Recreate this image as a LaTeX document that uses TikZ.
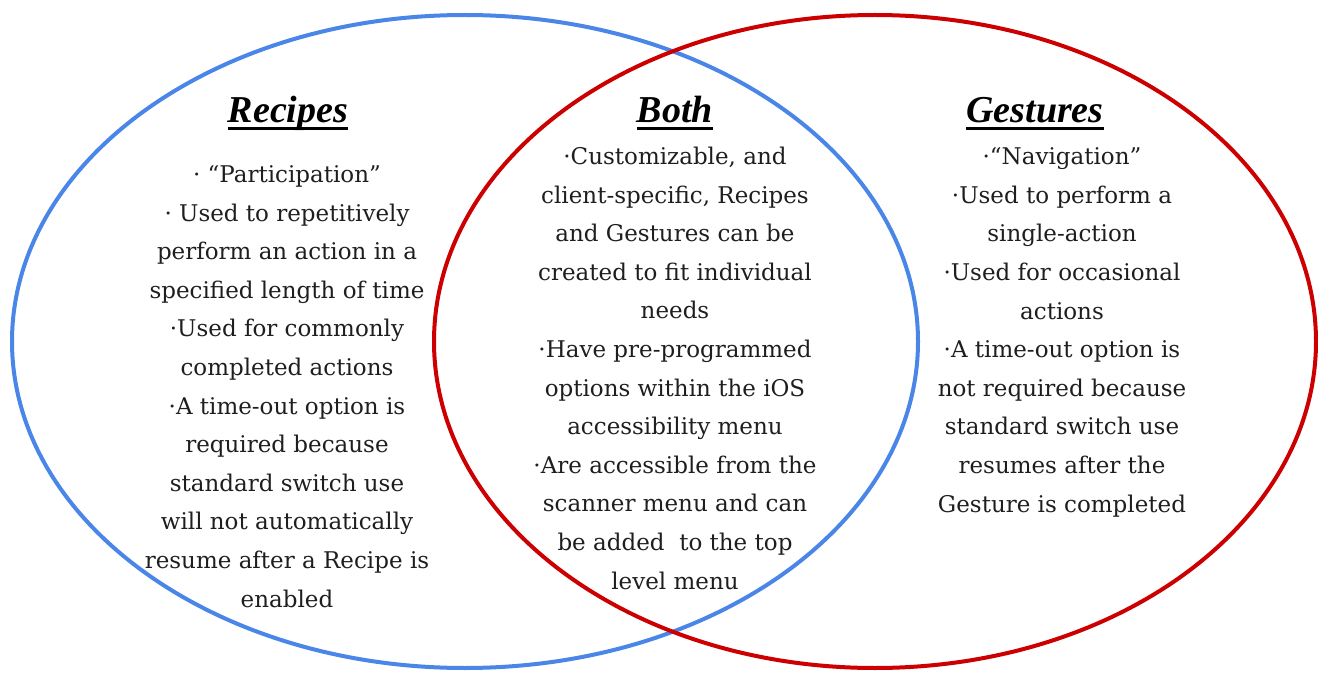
\documentclass[tikz,border=0pt]{standalone}
\usepackage{fontspec}
\setmainfont{DejaVu Serif}
\newfontfamily\titlefont{Liberation Serif}
\definecolor{vblue}{HTML}{4A86E8}
\definecolor{vred}{HTML}{CC0000}
\definecolor{txt}{HTML}{1E1E1E}
\newcommand\thul[1]{\setbox0\hbox{#1}\hbox{\copy0\kern-\wd0\raisebox{-7pt}{\rule{\wd0}{2.6pt}}}}
\begin{document}
\begin{tikzpicture}[x=1pt,y=-1pt,
  setring/.style={line width=4pt},
  body/.style={align=center,text=txt,font=\fontsize{23}{38.6}\selectfont,anchor=base,inner sep=0pt},
  title/.style={font=\titlefont\bfseries\itshape\fontsize{38}{40}\selectfont,anchor=base,inner sep=0pt}]
\useasboundingbox (0,0) rectangle (1318,679);
\draw[setring,vblue] (465,341.5) ellipse [x radius=453,y radius=326.5];
\draw[setring,vred] (875,341.5) ellipse [x radius=441,y radius=326.5];
\node[title] (trec) at (288,123) {\thul{Recipes}};
\node[title] (tboth) at (675,123) {\thul{Both}};
\node[title] (tges) at (1035,123) {\thul{Gestures}};
\node[body] (brec) at (287,607) {· “Participation”\\· Used to repetitively\\perform an action in a\\specified length of time\\·Used for commonly\\completed actions\\·A time-out option is\\required because\\standard switch use\\will not automatically\\resume after a Recipe is\\enabled};
\node[body] (bboth) at (675,589) {·Customizable, and\\client-specific, Recipes\\and Gestures can be\\created to fit individual\\needs\\·Have pre-programmed\\options within the iOS\\accessibility menu\\·Are accessible from the\\scanner menu and can\\be added\ \ to the top\\level menu};
\node[body] (bges) at (1062,512) {·“Navigation”\\·Used to perform a\\single-action\\·Used for occasional\\actions\\·A time-out option is\\not required because\\standard switch use\\resumes after the\\Gesture is completed};
\end{tikzpicture}
\end{document}
